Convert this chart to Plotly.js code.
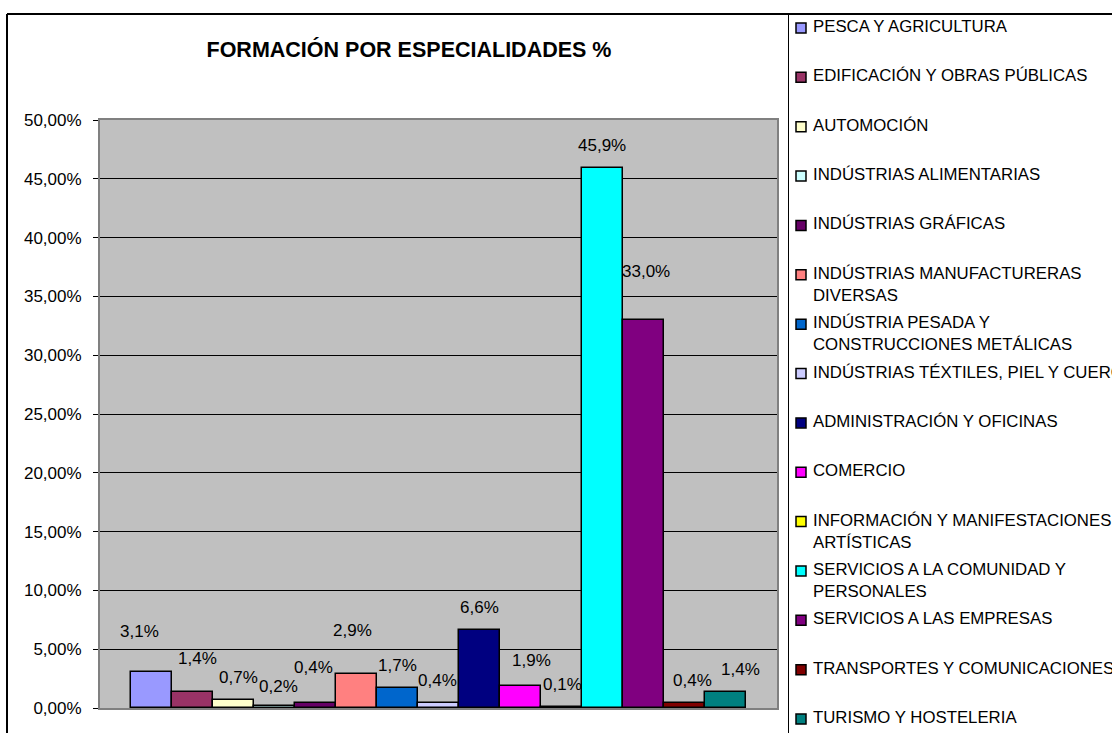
<!DOCTYPE html>
<html>
<head>
<meta charset="utf-8">
<script src="https://cdn.plot.ly/plotly-3.0.1.min.js"></script>
<style>
  html, body { margin: 0; padding: 0; background: #ffffff; }
  #chart { width: 1112px; height: 733px; }
</style>
</head>
<body>
<div id="chart"></div>
<script>
// ---------- DATA ----------
const categories = [
  "PESCA Y AGRICULTURA",
  "EDIFICACIÓN Y OBRAS PÚBLICAS",
  "AUTOMOCIÓN",
  "INDÚSTRIAS ALIMENTARIAS",
  "INDÚSTRIAS GRÁFICAS",
  "INDÚSTRIAS MANUFACTURERAS DIVERSAS",
  "INDÚSTRIA PESADA Y CONSTRUCCIONES METÁLICAS",
  "INDÚSTRIAS TÉXTILES, PIEL Y CUERO",
  "ADMINISTRACIÓN Y OFICINAS",
  "COMERCIO",
  "INFORMACIÓN Y MANIFESTACIONES ARTÍSTICAS",
  "SERVICIOS A LA COMUNIDAD Y PERSONALES",
  "SERVICIOS A LAS EMPRESAS",
  "TRANSPORTES Y COMUNICACIONES",
  "TURISMO Y HOSTELERIA"
];
const values = [3.1, 1.4, 0.7, 0.2, 0.4, 2.9, 1.7, 0.4, 6.6, 1.9, 0.1, 45.9, 33.0, 0.4, 1.4];
const legendText = [
  "PESCA Y AGRICULTURA",
  "EDIFICACIÓN Y OBRAS PÚBLICAS",
  "AUTOMOCIÓN",
  "INDÚSTRIAS ALIMENTARIAS",
  "INDÚSTRIAS GRÁFICAS",
  "INDÚSTRIAS MANUFACTURERAS<br>DIVERSAS",
  "INDÚSTRIA PESADA Y<br>CONSTRUCCIONES METÁLICAS",
  "INDÚSTRIAS TÉXTILES, PIEL Y CUERO",
  "ADMINISTRACIÓN Y OFICINAS",
  "COMERCIO",
  "INFORMACIÓN Y MANIFESTACIONES<br>ARTÍSTICAS",
  "SERVICIOS A LA COMUNIDAD Y<br>PERSONALES",
  "SERVICIOS A LAS EMPRESAS",
  "TRANSPORTES Y COMUNICACIONES",
  "TURISMO Y HOSTELERIA"
];
const yTicks = [0, 5, 10, 15, 20, 25, 30, 35, 40, 45, 50];
const yTickLabels = ["0,00%", "5,00%", "10,00%", "15,00%", "20,00%", "25,00%",
                     "30,00%", "35,00%", "40,00%", "45,00%", "50,00%"];
const titleText = "FORMACIÓN POR ESPECIALIDADES %";

// ---------- STYLE ----------
const colors = ["#9999FF", "#993366", "#FFFFCC", "#CCFFFF", "#660066", "#FF8080", "#0066CC",
                "#CCCCFF", "#000080", "#FF00FF", "#FFFF00", "#00FFFF", "#800080", "#800000", "#008080"];
// small per-label nudges (px) to mimic the hand-placed labels of the original
const labelDx = [-12, 5, 5, 4, -2, -4, 0, -1, 0, 11, 1, 0, 3, 8, 15];
const labelDy = [40, 33, 22, 19, 36, 43, 23, 23, 23, 25, 22, 23, 48, 23, 22];

const FONT = "Liberation Sans, Arial, Helvetica, sans-serif";
const W = 1112, H = 733;
const M = { l: 100, r: 335, t: 120, b: 25 };
const PW = W - M.l - M.r, PH = H - M.t - M.b;
const px = x => (x - M.l) / PW;
const py = y => (H - M.b - y) / PH;

const fmt = v => v.toFixed(1).replace(".", ",") + "%";

const trace = {
  type: "bar",
  x: categories,
  y: values,
  marker: { color: colors, line: { color: "#000000", width: 1.5 } },
  hovertemplate: "%{x}: %{y:.1f}%<extra></extra>",
  showlegend: false
};

const annotations = [];
values.forEach((v, i) => {
  annotations.push({
    x: categories[i], y: v, xref: "x", yref: "y",
    text: fmt(v), showarrow: false,
    xanchor: "center", yanchor: "middle",
    xshift: labelDx[i], yshift: labelDy[i],
    font: { family: FONT, size: 17, color: "#000000" }
  });
});

const shapes = [
  // outer chart frame
  { type: "line", xref: "paper", yref: "paper", x0: px(7), x1: px(1115), y0: py(14), y1: py(14),
    line: { color: "#000000", width: 2 } },
  { type: "line", xref: "paper", yref: "paper", x0: px(7), x1: px(7), y0: py(14), y1: py(740),
    line: { color: "#000000", width: 2 } },
  // legend frame
  { type: "line", xref: "paper", yref: "paper", x0: px(788.5), x1: px(788.5), y0: py(14), y1: py(740),
    line: { color: "#000000", width: 1 } }
];

const slot0 = 27, slotStep = 49.36;
legendText.forEach((t, i) => {
  const cy = slot0 + slotStep * i;
  shapes.push({
    type: "rect", xref: "paper", yref: "paper",
    x0: px(796), x1: px(806), y0: py(cy - 4), y1: py(cy + 6),
    fillcolor: colors[i], line: { color: "#000000", width: 1.5 }
  });
  annotations.push({
    xref: "paper", yref: "paper", x: px(811), y: py(cy - 12),
    xanchor: "left", yanchor: "top", align: "left",
    text: t, showarrow: false,
    font: { family: FONT, size: 16.8, color: "#000000" }
  });
});

const layout = {
  width: W, height: H,
  margin: M,
  paper_bgcolor: "#FFFFFF",
  plot_bgcolor: "#C0C0C0",
  separators: ",.",
  bargap: 0,
  font: { family: FONT, size: 17, color: "#000000" },
  title: {
    text: "<b>" + titleText + "</b>",
    font: { family: FONT, size: 21.5, color: "#000000" },
    xref: "container", yref: "container",
    x: 409 / W, xanchor: "center",
    y: 1 - 49 / H, yanchor: "middle"
  },
  xaxis: {
    type: "category",
    range: [-1.249, 15.263],
    showticklabels: false, ticks: "", showgrid: false, zeroline: false,
    showline: true, linecolor: "#808080", linewidth: 2, mirror: true,
    fixedrange: true
  },
  yaxis: {
    range: [0, 50],
    tickmode: "array", tickvals: yTicks, ticktext: yTickLabels,
    ticks: "outside", ticklen: 5, tickcolor: "#000000", tickwidth: 1,
    ticklabelstandoff: 8,
    tickfont: { family: FONT, size: 17, color: "#000000" },
    showgrid: true, gridcolor: "#000000", gridwidth: 1,
    zeroline: false,
    showline: true, linecolor: "#808080", linewidth: 2, mirror: true,
    fixedrange: true
  },
  annotations: annotations,
  shapes: shapes,
  showlegend: false
};

Plotly.newPlot("chart", [trace], layout, { displayModeBar: false, responsive: false });
</script>
</body>
</html>
